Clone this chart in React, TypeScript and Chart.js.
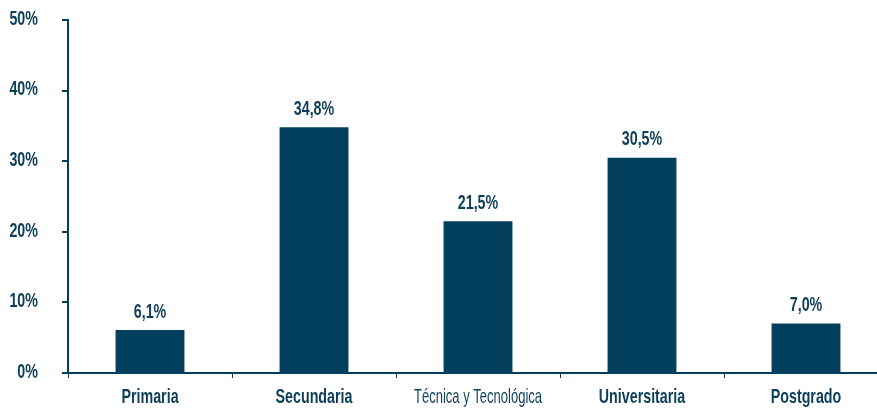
import React, { useEffect, useRef } from "react";
import { Chart, registerables } from "chart.js";

Chart.register(...registerables);

const categories = ["Primaria", "Secundaria", "Técnica y Tecnológica", "Universitaria", "Postgrado"];
const values = [6.1, 34.8, 21.5, 30.5, 7.0];
const valueLabels = ["6,1%", "34,8%", "21,5%", "30,5%", "7,0%"];
const yTicks = [0, 10, 20, 30, 40, 50];

const BAR = "#023f5c";
const TEXT = "#0d3f5a";
const FAMILY = "'Liberation Sans', Arial, sans-serif";
const SIZE = 21;

function drawText(ctx: any, text: string, x: number, y: number, align: string, bold: boolean) {
  ctx.save();
  ctx.font = `${bold ? "bold " : ""}${SIZE}px ${FAMILY}`;
  ctx.fillStyle = TEXT;
  ctx.textAlign = align;
  ctx.textBaseline = "middle";
  ctx.translate(x, y);
  ctx.scale(bold ? 0.68 : 0.62, 1);
  ctx.fillText(text, 0, 0);
  ctx.restore();
}

const labelPlugin = {
  id: "condensedLabels",
  afterDraw(chart: any) {
    const ctx = chart.ctx;
    const meta = chart.getDatasetMeta(0);
    meta.data.forEach((el: any, i: number) => {
      drawText(ctx, valueLabels[i], el.x, el.y - 18, "center", true);
    });
    const xs = chart.scales.x;
    categories.forEach((c, i) => {
      drawText(ctx, c, xs.getPixelForValue(i), 397, "center", i !== 2);
    });
    const ys = chart.scales.y;
    yTicks.forEach((v) => {
      drawText(ctx, v + "%", 38, ys.getPixelForValue(v) - 1, "right", true);
    });
  },
};

export default function App() {
  const ref = useRef<HTMLCanvasElement>(null);
  useEffect(() => {
    if (!ref.current) return;
    const chart = new Chart(ref.current, {
      type: "bar",
      data: {
        labels: categories,
        datasets: [
          {
            data: values,
            backgroundColor: BAR,
            borderWidth: 0,
            barPercentage: 0.42,
            categoryPercentage: 1,
          },
        ],
      },
      options: {
        responsive: false,
        animation: false,
        layout: { padding: { top: 20, right: 1, left: 0, bottom: 0 } },
        plugins: { legend: { display: false }, tooltip: { enabled: false } },
        scales: {
          x: {
            offset: true,
            grid: {
              offset: true,
              drawOnChartArea: false,
              drawTicks: true,
              tickLength: 5,
              color: BAR,
              lineWidth: 1,
            },
            border: { display: true, color: BAR, width: 2 },
            ticks: { display: false },
            afterFit: (s: any) => {
              s.height = 36;
            },
          },
          y: {
            min: 0,
            max: 50,
            afterBuildTicks: (s: any) => {
              s.ticks = yTicks.map((v) => ({ value: v }));
            },
            grid: {
              drawOnChartArea: false,
              drawTicks: true,
              tickLength: 6,
              color: BAR,
              lineWidth: 2,
            },
            border: { display: true, color: BAR, width: 2 },
            ticks: { display: false },
            afterFit: (s: any) => {
              s.width = 68;
            },
          },
        },
      },
      plugins: [labelPlugin],
    });
    return () => chart.destroy();
  }, []);
  return (
    <div style={{ position: "fixed", left: 0, top: 0, width: 877, height: 409, overflow: "hidden", background: "#fff" }}>
      <canvas ref={ref} width={889} height={409} style={{ display: "block" }} />
    </div>
  );
}
